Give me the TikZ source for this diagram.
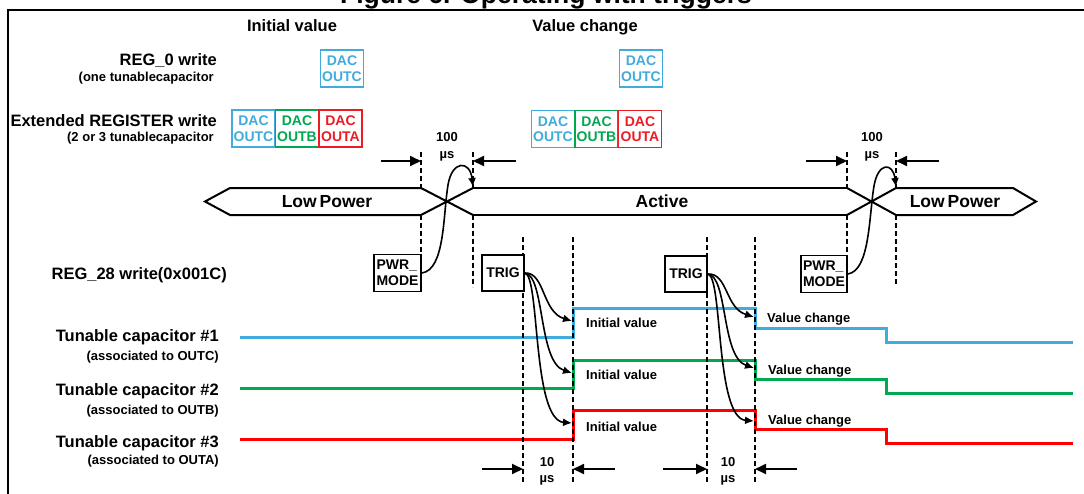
\documentclass[tikz,border=0pt]{standalone}
\usepackage{fontspec}
\setmainfont{Liberation Sans}
\usetikzlibrary{arrows.meta}
\definecolor{cblue}{RGB}{65,171,222}
\definecolor{cgreen}{RGB}{0,168,80}
\definecolor{cred}{RGB}{255,0,0}
\definecolor{tred}{RGB}{237,28,36}
\begin{document}
\begin{tikzpicture}[x=1pt,y=-1pt,
 lab/.style={font=\fontsize{16.5}{18}\selectfont\bfseries, inner sep=0pt},
 sub/.style={font=\fontsize{13}{15}\selectfont\bfseries, inner sep=0pt},
 sml/.style={font=\fontsize{13}{15}\selectfont\bfseries, inner sep=0pt},
 buslab/.style={font=\fontsize{17.5}{20}\selectfont\bfseries, inner sep=0pt},
 dacbox/.style={draw=#1, text=#1, line width=1.8pt, minimum width=43pt, minimum height=37pt, inner sep=0pt, align=center, font=\fontsize{14}{15.5}\selectfont\bfseries},
 blk/.style={draw, line width=1.5pt, fill=white, inner sep=0pt, align=center, font=\fontsize{14}{16}\selectfont\bfseries},
 dsh/.style={dash pattern=on 5pt off 3pt, line width=1.6pt},
 bus/.style={line width=2pt, line join=miter},
 sig/.style={line width=3pt},
 dim/.style={line width=1.8pt, -{Triangle[length=11pt,width=10pt]}},
 trg/.style={line width=1.6pt, -{Latex[length=9pt,width=8pt]}},
]
\useasboundingbox (0,0) rectangle (1084,493);
\fill[white] (0,0) rectangle (1084,493);
% title (cut at top, as in the reference) and frame
\node[font=\fontsize{26.5}{28}\selectfont\bfseries, inner sep=0pt, anchor=base] (title) at (546,3) {Figure 6. Operating with triggers};
\draw[line width=2pt] (8,500) -- (8,10) -- (1090,10);

% headings
\node[lab, anchor=base] (hinit) at (292,31) {Initial value};
\node[lab, anchor=base] (hchg) at (585,31) {Value change};
\node[lab, anchor=base east] (reg0) at (217,65) {REG\_0 write};
\node[sub, anchor=base east] (reg0s) at (214,81.5) {(one tunablecapacitor};
\node[lab, anchor=base east] (ext) at (217,126) {Extended REGISTER write};
\node[sub, anchor=base east] (exts) at (214,141.5) {(2 or 3 tunablecapacitor};
\node[lab, anchor=base east] (reg28) at (227,279) {REG\_28 write(0x001C)};

% DAC boxes
\node[dacbox=cblue] (d0i) at (342,68.5) {DAC\\OUTC};
\node[dacbox=cblue] (d0v) at (641,68.5) {DAC\\OUTC};
\node[dacbox=cblue] (dci) at (253.5,128.5) {DAC\\OUTC};
\node[dacbox=cgreen] (dbi) at (297,128.5) {DAC\\OUTB};
\node[dacbox=tred] (dai) at (340.5,128.5) {DAC\\OUTA};
\node[dacbox=cblue] (dcv) at (553,129) {DAC\\OUTC};
\node[dacbox=cgreen] (dbv) at (596.5,129) {DAC\\OUTB};
\node[dacbox=tred] (dav) at (640,129) {DAC\\OUTA};

% signal lines
\draw[sig,cblue] (240,337) -- (573,337) -- (573,308) -- (755,308) -- (755,328) -- (886,328) -- (886,342) -- (1073,342);
\draw[sig,cgreen] (240,388) -- (573,388) -- (573,360) -- (755,360) -- (755,379) -- (886,379) -- (886,393) -- (1073,393);
\draw[sig,cred] (240,439) -- (573,439) -- (573,410) -- (755,410) -- (755,429) -- (886,429) -- (886,443) -- (1073,443);

% bus
\draw[bus] (421,188) -- (230,188) -- (205,201.5) -- (230,215) -- (421,215);
\draw[bus] (421,188) -- (473,215) (421,215) -- (473,188);
\draw[bus] (473,188) -- (847,188) (473,215) -- (847,215);
\draw[bus] (847,188) -- (896,215) (847,215) -- (896,188);
\draw[bus] (896,188) -- (1013,188) -- (1036,201.5) -- (1013,215) -- (896,215);
\node[buslab] (lp1) at (327,201.5) {Low\,Power};
\node[buslab] (act) at (662,201.5) {Active};
\node[buslab] (lp2) at (955,201.5) {Low\,Power};

% dashed verticals
\draw[dsh] (421,152) -- (421,188) (421,215) -- (421,255);
\draw[dsh] (473,152) -- (473,188) (473,215) -- (473,287);
\draw[dsh] (847,152) -- (847,188) (847,215) -- (847,256);
\draw[dsh] (896,152) -- (896,188) (896,215) -- (896,284);
\draw[dsh] (523,237) -- (523,483);
\draw[dsh] (573,237) -- (573,483);
\draw[dsh] (707,237) -- (707,483);
\draw[dsh] (755,237) -- (755,483);

% register write boxes
\node[blk, minimum width=47pt, minimum height=37pt, align=left] (pwr1) at (397.5,273) {PWR\_\\MODE};
\node[blk, minimum width=46pt, minimum height=37pt, align=left] (pwr2) at (824,274) {PWR\_\\MODE};
\node[blk, minimum width=42pt, minimum height=36pt] (trig1) at (503,273) {TRIG};
\node[blk, minimum width=42pt, minimum height=36pt] (trig2) at (686,274) {TRIG};

% 100 us
\node[sml, anchor=base] (h1) at (447,141.5) {100};
\node[sml, anchor=base] (u1) at (447,158) {µs};
\node[sml, anchor=base] (h2) at (872,141.5) {100};
\node[sml, anchor=base] (u2) at (872,158) {µs};
\coordinate (a1s) at (381,161); \coordinate (a1e) at (421,161);
\coordinate (a2s) at (516,161); \coordinate (a2e) at (473,161);
\coordinate (a3s) at (806,161); \coordinate (a3e) at (847,161);
\coordinate (a4s) at (939,161); \coordinate (a4e) at (896,161);
\draw[dim] (a1s) -- (a1e);
\draw[dim] (a2s) -- (a2e);
\draw[dim] (a3s) -- (a3e);
\draw[dim] (a4s) -- (a4e);

% PWR_MODE curves
\coordinate (b1) at (473,187);
\coordinate (b2) at (896,187);
\draw[trg] (pwr1.east) .. controls (445,270) and (443,215) .. (448,185) .. controls (452,160) and (470,160) .. (b1);
\draw[trg] (pwr2.east) .. controls (870,271) and (869,215) .. (874,186) .. controls (878,162) and (893,162) .. (b2);

% TRIG curves
\coordinate (t1c) at (572,321); \coordinate (t1b) at (572,373); \coordinate (t1a) at (572,423);
\coordinate (t2c) at (754,317); \coordinate (t2b) at (754,368); \coordinate (t2a) at (754,421);
\draw[trg] (trig1.east) .. controls (545,272) and (542,312) .. (t1c);
\draw[trg] (trig1.east) .. controls (545,275) and (538,362) .. (t1b);
\draw[trg] (trig1.east) .. controls (540,275) and (532,420) .. (t1a);
\draw[trg] (trig2.east) .. controls (728,273) and (725,308) .. (t2c);
\draw[trg] (trig2.east) .. controls (728,276) and (721,357) .. (t2b);
\draw[trg] (trig2.east) .. controls (723,276) and (715,418) .. (t2a);

% signal labels
\node[sml, anchor=base west] (iv1) at (586,327) {Initial value};
\node[sml, anchor=base west] (iv2) at (586,379) {Initial value};
\node[sml, anchor=base west] (iv3) at (586,431) {Initial value};
\node[sml, anchor=base west] (vc1) at (767,322) {Value change};
\node[sml, anchor=base west] (vc2) at (768,374) {Value change};
\node[sml, anchor=base west] (vc3) at (768,424) {Value change};

% capacitor labels
\node[lab, anchor=base east] (c1) at (219,341) {Tunable capacitor \#1};
\node[sub, anchor=base east] (c1s) at (219,360) {(associated to OUTC)};
\node[lab, anchor=base east] (c2) at (219,395) {Tunable capacitor \#2};
\node[sub, anchor=base east] (c2s) at (219,414) {(associated to OUTB)};
\node[lab, anchor=base east] (c3) at (219,447) {Tunable capacitor \#3};
\node[sub, anchor=base east] (c3s) at (219,464) {(associated to OUTA)};

% 10 us
\node[sml, anchor=base] (t1) at (547,466.5) {10};
\node[sml, anchor=base] (m1) at (547,482) {µs};
\node[sml, anchor=base] (t2) at (728,466.5) {10};
\node[sml, anchor=base] (m2) at (728,482) {µs};
\coordinate (e1s) at (482,469); \coordinate (e1e) at (523,469);
\coordinate (e2s) at (615,469); \coordinate (e2e) at (573,469);
\coordinate (e3s) at (663,469); \coordinate (e3e) at (707,469);
\coordinate (e4s) at (797,469); \coordinate (e4e) at (755,469);
\draw[dim] (e1s) -- (e1e);
\draw[dim] (e2s) -- (e2e);
\draw[dim] (e3s) -- (e3e);
\draw[dim] (e4s) -- (e4e);
\end{tikzpicture}
\end{document}
